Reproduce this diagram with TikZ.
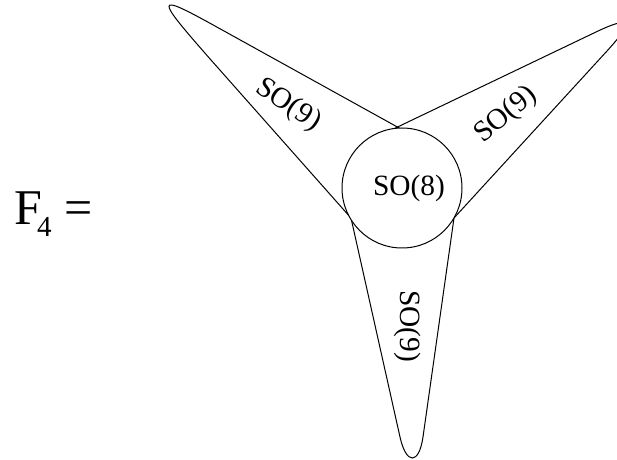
\documentclass[tikz,border=0pt]{standalone}
\usepackage{fontspec}
\setmainfont{Liberation Serif}
\usetikzlibrary{positioning}
\tikzset{
  lobe/.style={draw=black, line width=0.5pt},
  core/.style={circle, draw=black, fill=white, line width=0.5pt, minimum size=60pt, inner sep=0pt, outer sep=0pt},
  grp/.style={font=\fontsize{14.7}{16}\selectfont, inner sep=0pt},
  lhs/.style={font=\fontsize{25}{28}\selectfont, inner sep=0pt, anchor=base west},
}
\begin{document}
\begin{tikzpicture}[x=0.5pt, y=-0.5pt]
  \useasboundingbox (0,0) rectangle (617,460);
  % the three SO(9) lobes, closed under the circle
  \draw[lobe] (402,188) -- (410,134) -- (215,26) .. controls (153.8,-7.9) and (154.9,-3.8) .. (211,60) -- (351,218) -- cycle;
  \draw[lobe] (402,188) -- (385,133) -- (596,32) .. controls (632,14.8) and (634,21.4) .. (607,51) -- (454,218) -- cycle;
  \draw[lobe] (402,188) -- (351,218) -- (400,437) .. controls (406.3,465) and (418.9,465) .. (423,437) -- (454,218) -- cycle;
  \node[core] (c) at (402,188) {};
  \node[grp] (so8) at (409,188) {SO(8)};
  \node[grp, rotate=-33] (ul) at (288,105) {SO(9)};
  \node[grp, rotate=40] (ur) at (506,115) {SO(9)};
  \node[grp, rotate=-90] (dn) at (408,326) {SO(9)};
  \node[lhs] (f4) at (14.5,225) {F\kern-2.85pt\raisebox{-6pt}{\fontsize{14.5}{15}\selectfont 4} =};
\end{tikzpicture}
\end{document}
